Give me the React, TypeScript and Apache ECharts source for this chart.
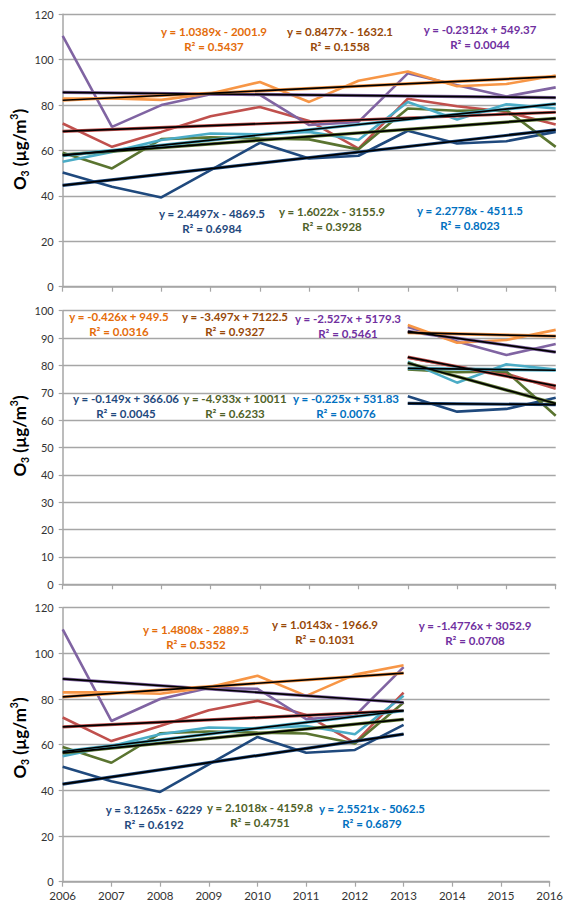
import React, { useEffect, useRef } from "react";
import * as echarts from "echarts";

// ---- data ----
const years = [2006, 2007, 2008, 2009, 2010, 2011, 2012, 2013, 2014, 2015, 2016];
const seriesNames = ["navy", "red", "olive", "purple", "teal", "orange"];
const navy = [50.3, 44.0, 39.3, 51.4, 63.4, 56.5, 57.7, 68.7, 63.1, 64.1, 68.2];
const red = [71.9, 61.6, 68.2, 75.1, 79.2, 73.0, 60.8, 82.8, 79.5, 77.0, 71.5];
const olive = [59.0, 52.1, 65.0, 65.8, 65.3, 64.9, 60.5, 78.5, 77.5, 77.8, 61.6];
const purple = [110.5, 70.4, 80.0, 84.8, 84.5, 71.2, 72.6, 94.0, 88.7, 83.8, 87.8];
const teal = [55.0, 59.4, 64.6, 67.5, 67.1, 68.2, 64.6, 81.4, 73.7, 80.4, 78.5];
const orange = [82.9, 82.9, 82.3, 85.1, 90.2, 81.4, 90.7, 94.8, 88.3, 89.3, 93.0];

// trend line end values (from the equations shown), order: navy, red, olive, purple, teal, orange
const trend1Start = [44.6, 68.39, 58.11, 85.58, 57.77, 82.13]; // 2006
const trend1End = [69.1, 76.86, 74.14, 83.27, 80.54, 92.52]; // 2016
const trend2Start = [66.12, 83.04, 80.87, 92.45, 78.9, 91.96]; // 2013
const trend2End = [65.68, 72.55, 66.07, 84.87, 78.23, 90.68]; // 2016
const trend3Start = [42.76, 67.79, 56.41, 88.83, 57.01, 80.98]; // 2006
const trend3End = [64.64, 74.89, 71.12, 78.49, 74.88, 91.35]; // 2013

const eq1 = ["y = 2.4497x - 4869.5", "y = 0.8477x - 1632.1", "y = 1.6022x - 3155.9", "y = -0.2312x + 549.37", "y = 2.2778x - 4511.5", "y = 1.0389x - 2001.9"];
const r1 = ["R² = 0.6984", "R² = 0.1558", "R² = 0.3928", "R² = 0.0044", "R² = 0.8023", "R² = 0.5437"];
const eq2 = ["y = -0.149x + 366.06", "y = -3.497x + 7122.5", "y = -4.933x + 10011", "y = -2.527x + 5179.3", "y = -0.225x + 531.83", "y = -0.426x + 949.5"];
const r2 = ["R² = 0.0045", "R² = 0.9327", "R² = 0.6233", "R² = 0.5461", "R² = 0.0076", "R² = 0.0316"];
const eq3 = ["y = 3.1265x - 6229", "y = 1.0143x - 1966.9", "y = 2.1018x - 4159.8", "y = -1.4776x + 3052.9", "y = 2.5521x - 5062.5", "y = 1.4808x - 2889.5"];
const r3 = ["R² = 0.6192", "R² = 0.1031", "R² = 0.4751", "R² = 0.0708", "R² = 0.6879", "R² = 0.5352"];

const allValues = [navy, red, olive, purple, teal, orange];

// ---- styles ----
const lineColors = ["#1F497D", "#C0504D", "#5A7430", "#8064A2", "#4BACC6", "#F79646"];
const textColors = ["#1F497D", "#984807", "#4F6228", "#7030A0", "#0070C0", "#E46C0A"];
const FONT = "Lato, 'Open Sans', sans-serif";

// label centers per panel [x, yFirstLine]
const labelPos1 = [[212, 213.3], [340, 31.7], [332, 211.7], [480, 29.5], [470, 210.5], [214, 31.7]];
const labelPos2 = [[126, 398.3], [235, 316.7], [235, 398.3], [348, 318.3], [346, 398.3], [119, 316.7]];
const labelPos3 = [[154, 809], [325, 624.5], [260, 807], [475, 625], [372, 808.3], [196, 629.3]];

export default function App() {
  const ref = useRef<HTMLDivElement>(null);
  useEffect(() => {
    if (!ref.current) return;
    const chart = echarts.init(ref.current, undefined, { renderer: "svg" });

    const grids = [
      { left: 62.7, width: 493, top: 14.3, height: 272.4 },
      { left: 62.7, width: 493, top: 310.7, height: 273.6 },
      { left: 62.7, width: 493, top: 607.7, height: 274 },
    ];
    const axisGray = "#A6A6A6";
    const xAxes = grids.map((_, i) => ({
      type: "value",
      gridIndex: i,
      min: 2006,
      max: 2016,
      interval: 1,
      splitLine: { show: false },
      axisLine: { show: true, lineStyle: { color: axisGray, width: 1.5 } },
      axisTick: { show: true, length: 5, lineStyle: { color: axisGray, width: 1.2 } },
      axisLabel: {
        show: i === 2,
        formatter: (v: number) => String(v),
        color: "#333",
        fontSize: 11.5,
        fontFamily: FONT,
        margin: 8,
      },
    }));
    const yMax = [120, 100, 120];
    const yInt = [20, 10, 20];
    const yAxes = grids.map((_, i) => ({
      type: "value",
      gridIndex: i,
      min: 0,
      max: yMax[i],
      interval: yInt[i],
      splitLine: { show: true, lineStyle: { color: axisGray, width: 1.3 } },
      axisLine: { show: true, lineStyle: { color: axisGray, width: 1.5 } },
      axisTick: { show: true, length: 4, lineStyle: { color: axisGray, width: 1.2 } },
      axisLabel: { color: "#333", fontSize: 11, fontFamily: FONT, margin: 9 },
    }));

    const ranges = [
      [0, 10],
      [7, 10],
      [0, 7],
    ];
    const trendStarts = [trend1Start, trend2Start, trend3Start];
    const trendEnds = [trend1End, trend2End, trend3End];

    const series: any[] = [];
    for (let p = 0; p < 3; p++) {
      const [a, b] = ranges[p];
      allValues.forEach((vals, k) => {
        const data: number[][] = [];
        for (let j = a; j <= b; j++) data.push([years[j], vals[j]]);
        series.push({
          type: "line",
          name: seriesNames[k],
          xAxisIndex: p,
          yAxisIndex: p,
          data,
          showSymbol: false,
          symbol: "none",
          lineStyle: { color: lineColors[k], width: 2.6 },
          z: 2,
        });
      });
      allValues.forEach((_, k) => {
        const td = [
          [years[a], trendStarts[p][k]],
          [years[b], trendEnds[p][k]],
        ];
        series.push({
          type: "line",
          xAxisIndex: p,
          yAxisIndex: p,
          data: td,
          symbol: "none",
          lineStyle: { color: lineColors[k], width: 3.2 },
          z: 3,
        });
        series.push({
          type: "line",
          xAxisIndex: p,
          yAxisIndex: p,
          data: td,
          symbol: "none",
          lineStyle: { color: "#000", width: 1.7 },
          z: 4,
        });
      });
    }

    const graphic: any[] = [];
    const eqs = [eq1, eq2, eq3];
    const rs = [r1, r2, r3];
    const pos = [labelPos1, labelPos2, labelPos3];
    for (let p = 0; p < 3; p++) {
      for (let k = 0; k < 6; k++) {
        graphic.push({
          type: "text",
          x: pos[p][k][0],
          y: pos[p][k][1] - 7.5,
          z: 10,
          style: {
            text: eqs[p][k] + "\n" + rs[p][k],
            fill: textColors[k],
            font: `bold 11.5px ${FONT}`,
            align: "center",
            verticalAlign: "top",
            lineHeight: 15,
          },
        });
      }
    }
    const nameCenters = [149.5, 436, 738];
    nameCenters.forEach((cy) => {
      graphic.push({
        type: "text",
        x: 19,
        y: cy,
        rotation: Math.PI / 2,
        style: {
          text: "{b|O}{s|3}{b| (µg/m}{u|3}{b|)}",
          align: "center",
          verticalAlign: "middle",
          rich: {
            b: { fontFamily: FONT, fontWeight: "bold", fontSize: 17, fill: "#000", lineHeight: 22, verticalAlign: "middle" },
            s: { fontFamily: FONT, fontWeight: "bold", fontSize: 10.5, fill: "#000", lineHeight: 22, verticalAlign: "bottom" },
            u: { fontFamily: FONT, fontWeight: "bold", fontSize: 10.5, fill: "#000", lineHeight: 22, verticalAlign: "top" },
          },
        },
      });
    });

    chart.setOption({
      animation: false,
      backgroundColor: "#fff",
      grid: grids,
      xAxis: xAxes,
      yAxis: yAxes,
      series,
      graphic,
    });
    return () => chart.dispose();
  }, []);
  return <div ref={ref} style={{ position: "absolute", left: 0, top: 0, width: 566, height: 905 }} />;
}
